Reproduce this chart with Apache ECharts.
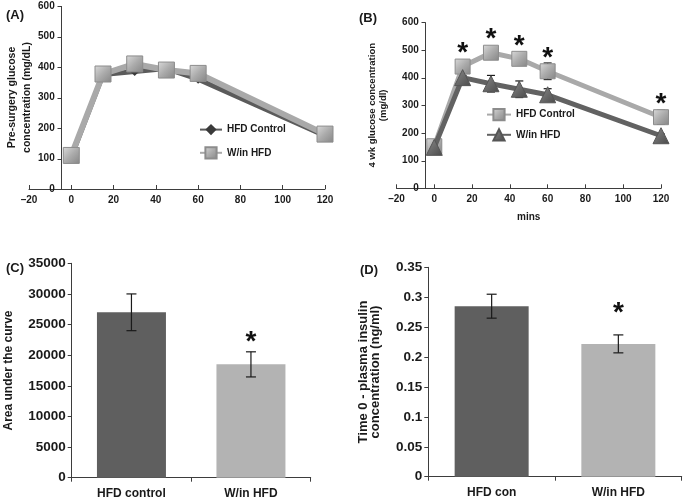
<!DOCTYPE html>
<html><head><meta charset="utf-8">
<script src="https://cdn.jsdelivr.net/npm/echarts@6/dist/echarts.min.js"></script>
<style>html,body{margin:0;padding:0;background:#fff}#c{width:683px;height:502px}</style>
</head><body><div id="c"></div>
<script>
// ---- Panel A: pre-surgery glucose ----
const timesA = [0, 15, 30, 45, 60, 120];
const preControl = [105, 375, 385, 395, 360, 175];
const preWin = [110, 377, 410, 390, 379, 180];
// ---- Panel B: 4 wk glucose ----
const timesB = [0, 15, 30, 45, 60, 120];
const wkControl = [152, 440, 490, 468, 423, 257];
const wkControlErr = [0, 6, 8, 22, 30, 25];
const wkWin = [148, 400, 378, 358, 338, 190];
const wkWinErr = [0, 8, 30, 30, 22, 6];
const wkSig = [false, true, true, true, true, true];
// glucose y-axis ticks (A and B) and where the y axis crosses x
const glucoseTicks = [0, 100, 200, 300, 400, 500, 600];
const yCrossX = -5;
// ---- Panel C: AUC ----
const aucCats = ['HFD control', 'W/in HFD'];
const aucVals = [27000, 18500];
const aucErr = [3000, 2050];
const aucSig = [false, true];
// ---- Panel D: insulin ----
const insCats = ['HFD con', 'W/in HFD'];
const insVals = [0.285, 0.222];
const insErr = [0.02, 0.015];
const insSig = [false, true];

const FONT = 'Liberation Sans';
const TXT = '#1a1a1a';
const AX = '#3d3d3d';
const DARK = '#5b5b5b';
const LIGHT = '#a9a9a9';
const sqGrad = {type:'linear', x:0, y:0, x2:1, y2:1, colorStops:[{offset:0,color:'#dadada'},{offset:0.5,color:'#ababab'},{offset:1,color:'#858585'}]};
const triGrad = {type:'linear', x:0, y:0, x2:1, y2:1, colorStops:[{offset:0,color:'#8a8a8a'},{offset:1,color:'#4a4a4a'}]};

function pairs(xs, ys) { return xs.map((x, i) => [x, ys[i]]); }

function errSeries(xi, yi, xs, ys, es, cap, z) {
  const data = [];
  xs.forEach((x, i) => { if (es[i] > 0) data.push([x, ys[i] - es[i], ys[i] + es[i]]); });
  return {
    type: 'custom', xAxisIndex: xi, yAxisIndex: yi, z: z, silent: true,
    data: data,
    renderItem(params, api) {
      const x = api.value(0);
      const lo = api.coord([x, api.value(1)]);
      const hi = api.coord([x, api.value(2)]);
      const st = {stroke: '#1a1a1a', lineWidth: 1.2};
      return {type: 'group', children: [
        {type: 'line', shape: {x1: lo[0], y1: lo[1], x2: hi[0], y2: hi[1]}, style: st},
        {type: 'line', shape: {x1: lo[0] - cap, y1: lo[1], x2: lo[0] + cap, y2: lo[1]}, style: st},
        {type: 'line', shape: {x1: hi[0] - cap, y1: hi[1], x2: hi[0] + cap, y2: hi[1]}, style: st}
      ]};
    }
  };
}

// y-axis line + ticks drawn at the crossing value through the axis scales
function yAxisLineSeries(xi, yi, ticks) {
  return {
    type: 'custom', xAxisIndex: xi, yAxisIndex: yi, z: 1, silent: true, clip: false,
    data: [[yCrossX, ticks[0], ticks[ticks.length - 1]]],
    renderItem(params, api) {
      const a = api.coord([api.value(0), api.value(1)]);
      const b = api.coord([api.value(0), api.value(2)]);
      const x = Math.round(a[0]) + 0.5;
      const st = {stroke: AX, lineWidth: 1};
      const kids = [{type: 'line', shape: {x1: x, y1: a[1], x2: x, y2: b[1]}, style: st}];
      ticks.forEach(t => {
        const p = api.coord([api.value(0), t]);
        const y = Math.round(p[1]) + 0.5;
        kids.push({type: 'line', shape: {x1: x - 4, y1: y, x2: x, y2: y}, style: st});
      });
      return {type: 'group', children: kids};
    }
  };
}

function starSeries(xi, yi, xs, ys, es, sig, gap) {
  const data = [];
  xs.forEach((x, i) => { if (sig[i]) data.push([x, ys[i] + es[i]]); });
  return {
    type: 'custom', xAxisIndex: xi, yAxisIndex: yi, z: 6, silent: true,
    data: data,
    renderItem(params, api) {
      const p = api.coord([api.value(0), api.value(1)]);
      return {type: 'text', x: p[0], y: p[1] - gap,
        style: {text: '*', font: 'bold 28px "' + FONT + '"', fill: '#111', align: 'center', verticalAlign: 'middle'}};
    }
  };
}

const minusFmt = v => String(v).replace('-', '\u2013');
const plainFmt = v => String(v);
const lbl = (size, extra) => Object.assign({fontFamily: FONT, fontWeight: 'bold', fontSize: size, color: TXT}, extra || {});
const axLine = () => ({show: true, onZero: false, lineStyle: {color: AX, width: 1}});
const outTick = () => ({show: true, length: 4, lineStyle: {color: AX}});
const inTick = () => ({show: true, inside: true, length: 4, lineStyle: {color: AX}});

const option = {
  backgroundColor: '#fff',
  animation: false,
  title: [
    {text: '(A)', left: 1, top: 4, textStyle: lbl(13)},
    {text: '(B)', left: 354, top: 7, textStyle: lbl(13)},
    {text: '(C)', left: 1, top: 257, textStyle: lbl(13)},
    {text: '(D)', left: 355, top: 259, textStyle: lbl(13)}
  ],
  legend: [
    {left: 194, top: 119, orient: 'vertical', itemWidth: 22, itemHeight: 14, itemGap: 11,
     data: ['HFD Control', 'W/in HFD'], textStyle: lbl(10)},
    {left: 481, top: 103, orient: 'vertical', itemWidth: 24, itemHeight: 14, itemGap: 7,
     data: ['HFD Control ', 'W/in HFD '], textStyle: lbl(10)}
  ],
  grid: [
    {left: 29, width: 296, top: 6, height: 183, outerBoundsMode: 'none'},
    {left: 396.5, width: 264.5, top: 22.3, height: 166, outerBoundsMode: 'none'},
    {left: 71.7, width: 239, top: 263.3, height: 214.4, outerBoundsMode: 'none'},
    {left: 428.3, width: 253.4, top: 267.3, height: 209.4, outerBoundsMode: 'none'}
  ],
  xAxis: [
    {gridIndex: 0, type: 'value', min: -20, max: 120, interval: 20,
     axisLine: {show: true, onZero: false, lineStyle: {color: AX, width: 1}}, axisTick: inTick(),
     splitLine: {show: false}, axisLabel: lbl(10, {margin: 6, formatter: minusFmt})},
    {gridIndex: 1, type: 'value', min: -20, max: 120, interval: 20,
     name: 'mins', nameLocation: 'middle', nameGap: 24, nameTextStyle: lbl(10),
     axisLine: {show: true, onZero: false, lineStyle: {color: AX, width: 1}}, axisTick: inTick(),
     splitLine: {show: false}, axisLabel: lbl(10, {margin: 6, formatter: minusFmt})},
    {gridIndex: 2, type: 'category', data: aucCats,
     axisLine: {show: true, lineStyle: {color: AX, width: 1}}, axisTick: outTick(),
     axisLabel: lbl(12, {margin: 10})},
    {gridIndex: 3, type: 'category', data: insCats,
     axisLine: {show: true, lineStyle: {color: AX, width: 1}}, axisTick: outTick(),
     axisLabel: lbl(12, {margin: 10})}
  ],
  yAxis: [
    {gridIndex: 0, type: 'value', min: 0, max: 600, interval: 100, offset: -31.7,
     name: 'Pre-surgery glucose\nconcentration (mg/dL)', nameLocation: 'middle', nameGap: 25, nameRotate: 90,
     nameTextStyle: lbl(10.5, {lineHeight: 15}),
     axisLine: {show: false, onZero: false}, axisTick: {show: false},
     splitLine: {show: false}, axisLabel: lbl(10, {margin: 6})},
    {gridIndex: 1, type: 'value', min: 0, max: 600, interval: 100, offset: -28.3,
     name: '4 wk glucose concentration\n(mg/dl)', nameLocation: 'middle', nameGap: 36, nameRotate: 90,
     nameTextStyle: lbl(9.5, {lineHeight: 11}),
     axisLine: {show: false, onZero: false}, axisTick: {show: false},
     splitLine: {show: false}, axisLabel: lbl(10, {margin: 6})},
    {gridIndex: 2, type: 'value', min: 0, max: 35000, interval: 5000,
     name: 'Area under the curve', nameLocation: 'middle', nameGap: 57, nameRotate: 90,
     nameTextStyle: lbl(12),
     axisLine: axLine(), axisTick: outTick(),
     splitLine: {show: false}, axisLabel: lbl(13.5, {margin: 6, formatter: plainFmt})},
    {gridIndex: 3, type: 'value', min: 0, max: 0.35, interval: 0.05,
     name: 'Time 0 - plasma insulin\nconcentration (ng/ml)', nameLocation: 'middle', nameGap: 47, nameRotate: 90,
     nameTextStyle: lbl(13, {lineHeight: 12}),
     axisLine: axLine(), axisTick: outTick(),
     splitLine: {show: false}, axisLabel: lbl(13.5, {margin: 6, formatter: plainFmt})}
  ],
  series: [
    yAxisLineSeries(0, 0, glucoseTicks),
    yAxisLineSeries(1, 1, glucoseTicks),
    // Panel A
    {name: 'HFD Control', type: 'line', xAxisIndex: 0, yAxisIndex: 0, data: pairs(timesA, preControl),
     symbol: 'diamond', symbolSize: 9, lineStyle: {color: DARK, width: 5}, itemStyle: {color: '#3a3a3a'}, z: 2},
    {name: 'W/in HFD', type: 'line', xAxisIndex: 0, yAxisIndex: 0, data: pairs(timesA, preWin),
     symbol: 'rect', symbolSize: 16, lineStyle: {color: LIGHT, width: 6},
     itemStyle: {color: sqGrad, borderColor: '#8c8c8c', borderWidth: 1}, z: 3},
    // Panel B
    errSeries(1, 1, timesB, wkControl, wkControlErr, 4, 1),
    errSeries(1, 1, timesB, wkWin, wkWinErr, 4, 1),
    {name: 'HFD Control ', type: 'line', xAxisIndex: 1, yAxisIndex: 1, data: pairs(timesB, wkControl),
     symbol: 'rect', symbolSize: 15, lineStyle: {color: LIGHT, width: 5},
     itemStyle: {color: sqGrad, borderColor: '#8c8c8c', borderWidth: 1}, z: 2},
    {name: 'W/in HFD ', type: 'line', xAxisIndex: 1, yAxisIndex: 1, data: pairs(timesB, wkWin),
     symbol: 'triangle', symbolSize: 16, lineStyle: {color: '#626262', width: 5},
     itemStyle: {color: triGrad, borderColor: '#555', borderWidth: 1}, z: 3},
    starSeries(1, 1, timesB, wkControl, new Array(timesB.length).fill(0), wkSig, 13),
    // Panel C
    {type: 'bar', xAxisIndex: 2, yAxisIndex: 2, barWidth: 69,
     data: aucVals.map((v, i) => ({value: v, itemStyle: {color: i === 0 ? '#5f5f5f' : '#b3b3b3'}}))},
    errSeries(2, 2, [0, 1], aucVals, aucErr, 5, 5),
    starSeries(2, 2, [0, 1], aucVals, aucErr, aucSig, 10),
    // Panel D
    {type: 'bar', xAxisIndex: 3, yAxisIndex: 3, barWidth: 74,
     data: insVals.map((v, i) => ({value: v, itemStyle: {color: i === 0 ? '#5f5f5f' : '#b3b3b3'}}))},
    errSeries(3, 3, [0, 1], insVals, insErr, 5, 5),
    starSeries(3, 3, [0, 1], insVals, insErr, insSig, 22)
  ]
};

const chart = echarts.init(document.getElementById('c'), null, {renderer: 'canvas'});
chart.setOption(option);
</script>
</body></html>
